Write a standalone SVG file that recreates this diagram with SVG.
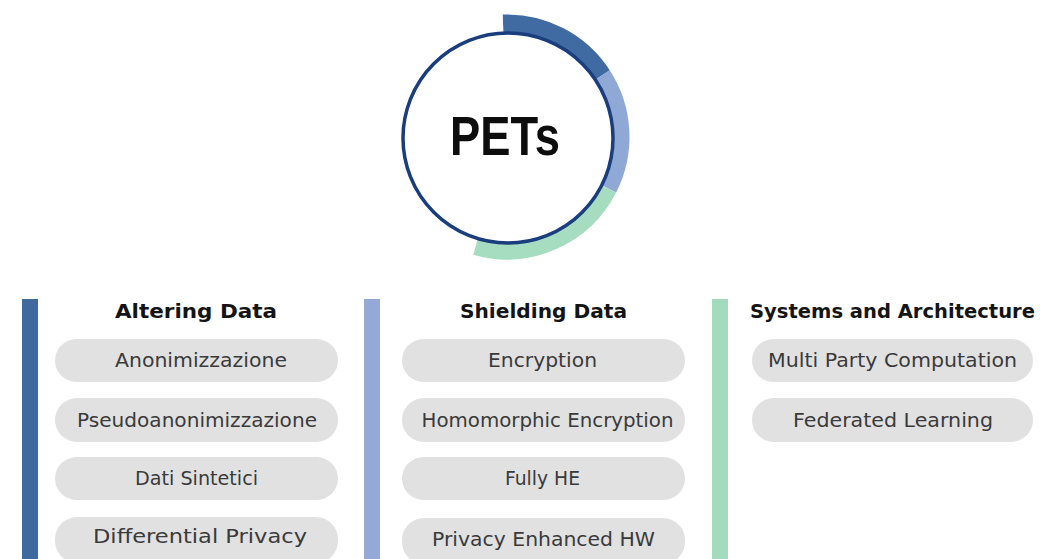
<svg xmlns="http://www.w3.org/2000/svg" width="1048" height="559" viewBox="0 0 1048 559">
<style>
.pill{fill:#e1e1e1;}
.item{font-family:"DejaVu Sans","Liberation Sans",sans-serif;font-size:20px;fill:#3a3a3a;text-anchor:middle;}
.head{font-family:"DejaVu Sans","Liberation Sans",sans-serif;font-size:20px;font-weight:bold;fill:#141414;text-anchor:middle;}
.arc{fill:none;stroke-width:19;}
</style>
<rect width="1048" height="559" fill="#ffffff"/>
<g id="pets">
<path class="arc" d="M503.1,24.07 A113,113 0 0 1 601.77,75.46" stroke="#3f6aa2"/>
<path class="arc" d="M601.77,75.46 A113,113 0 0 1 607.68,188.3" stroke="#8fa8d5"/>
<path class="arc" d="M607.68,188.3 A113,113 0 0 1 475.85,245.63" stroke="#a6dcbf"/>
<circle cx="508" cy="138" r="105" fill="#ffffff" stroke="#1a3d7e" stroke-width="3.5"/>
<text x="505" y="155" text-anchor="middle" font-family="Liberation Sans, Arial, sans-serif" font-weight="bold" font-size="55" fill="#0d0d0d" textLength="110" lengthAdjust="spacingAndGlyphs">PETs</text>
</g>
<g id="col-altering">
<rect x="22" y="299" width="16" height="260" fill="#3e6aa0"/>
<text class="head" x="196" y="318" textLength="162" lengthAdjust="spacingAndGlyphs">Altering Data</text>
<g id="anonimizzazione"><rect class="pill" x="55" y="339" width="283" height="43" rx="21.5"/><text class="item" x="201" y="367" textLength="172" lengthAdjust="spacingAndGlyphs">Anonimizzazione</text></g>
<g id="pseudoanonimizzazione"><rect class="pill" x="55" y="398" width="283" height="44" rx="22"/><text class="item" x="197" y="427" textLength="240" lengthAdjust="spacingAndGlyphs">Pseudoanonimizzazione</text></g>
<g id="dati-sintetici"><rect class="pill" x="55" y="457" width="283" height="43" rx="21.5"/><text class="item" x="196.5" y="485" textLength="123" lengthAdjust="spacingAndGlyphs">Dati Sintetici</text></g>
<g id="differential-privacy"><rect class="pill" x="55" y="517" width="283" height="46" rx="22"/><text class="item" x="200" y="543" textLength="214" lengthAdjust="spacingAndGlyphs">Differential Privacy</text></g>
</g>
<g id="col-shielding">
<rect x="364" y="299" width="16" height="260" fill="#93aad6"/>
<text class="head" x="543.5" y="318" textLength="167" lengthAdjust="spacingAndGlyphs">Shielding Data</text>
<g id="encryption"><rect class="pill" x="402" y="339" width="283" height="43" rx="21.5"/><text class="item" x="542.5" y="367" textLength="109" lengthAdjust="spacingAndGlyphs">Encryption</text></g>
<g id="homomorphic-encryption"><rect class="pill" x="402" y="398" width="283" height="44" rx="22"/><text class="item" x="547.5" y="427" textLength="252" lengthAdjust="spacingAndGlyphs">Homomorphic Encryption</text></g>
<g id="fully-he"><rect class="pill" x="402" y="457" width="283" height="43" rx="21.5"/><text class="item" x="542.5" y="485" textLength="75" lengthAdjust="spacingAndGlyphs">Fully HE</text></g>
<g id="privacy-enhanced-hw"><rect class="pill" x="402" y="518" width="283" height="46" rx="22"/><text class="item" x="543.5" y="546" textLength="223" lengthAdjust="spacingAndGlyphs">Privacy Enhanced HW</text></g>
</g>
<g id="col-systems">
<rect x="712" y="299" width="16" height="260" fill="#a3dbbf"/>
<text class="head" x="892.5" y="318" textLength="285" lengthAdjust="spacingAndGlyphs">Systems and Architecture</text>
<g id="multi-party-computation"><rect class="pill" x="752" y="339" width="281" height="43" rx="21.5"/><text class="item" x="892.5" y="367" textLength="249" lengthAdjust="spacingAndGlyphs">Multi Party Computation</text></g>
<g id="federated-learning"><rect class="pill" x="752" y="398" width="281" height="44" rx="22"/><text class="item" x="893" y="427" textLength="200" lengthAdjust="spacingAndGlyphs">Federated Learning</text></g>
</g>
<g id="connectors"></g>
</svg>
